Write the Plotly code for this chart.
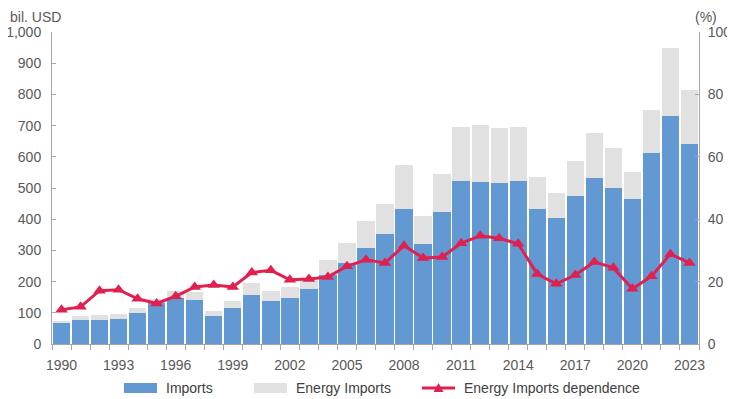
import plotly.graph_objects as go

years = list(range(1990, 2024))
imports = [66, 77, 77, 79, 98, 131, 146, 141, 89, 115, 156, 137, 147, 175, 220, 259, 307, 354, 434, 321,
           423, 522, 518, 515, 524, 434, 404, 475, 533, 501, 465, 613, 731, 642]
energy_imports = [9, 12, 15, 16, 16, 14, 25, 27, 18, 24, 38, 34, 35, 31, 50, 66, 86, 96, 141, 90,
                  123, 174, 184, 178, 173, 101, 81, 110, 144, 127, 86, 138, 218, 173]
dependence = [11.0, 11.9, 17.1, 17.4, 14.5, 13.0, 15.3, 18.3, 18.9, 18.3, 22.9, 23.6, 20.6, 20.8, 21.5, 24.9,
              27.0, 26.0, 31.5, 27.6, 27.9, 32.3, 34.7, 33.9, 32.1, 22.4, 19.3, 22.1, 26.3, 24.4, 17.7, 21.7,
              28.8, 26.0]
tick_years = list(range(1990, 2024, 3))
series_names = ["Imports", "Energy Imports", "Energy Imports dependence"]

FONT = "Liberation Sans, Arial, sans-serif"
TXT = "#595959"
AX = "#a6a6a6"
C_BLUE = "#6399d2"
C_GRAY = "#e1e1e1"
C_RED = "#e0204f"

# the page body has an 8px margin, so the figure is shifted by OFF
OFF = 8
W, H = 727, 391
ML, MR, MT, MB = 44, 36, 24, 55
PW, PH = W - ML - MR, H - MT - MB


def px(x):
    """page pixel x -> paper coord"""
    return (x - OFF - ML) / PW


def py(y):
    """page pixel y -> paper coord"""
    return (H - MB - (y - OFF)) / PH


fig = go.Figure()
fig.add_trace(go.Bar(x=years, y=imports, name=series_names[0], marker=dict(color=C_BLUE, line=dict(width=0))))
fig.add_trace(go.Bar(x=years, y=energy_imports, name=series_names[1],
                     marker=dict(color=C_GRAY, line=dict(width=0))))
fig.add_trace(go.Scatter(x=years, y=dependence, name=series_names[2], yaxis="y2",
                         mode="lines+markers", line=dict(color=C_RED, width=3),
                         marker=dict(symbol="triangle-up", size=11, color=C_RED)))

# manual legend (wide swatches like the reference)
LEG_Y = 388
shapes = [
    dict(type="rect", xref="paper", yref="paper", x0=px(124), x1=px(157), y0=py(393), y1=py(383),
         fillcolor=C_BLUE, line=dict(width=0)),
    dict(type="rect", xref="paper", yref="paper", x0=px(254), x1=px(287), y0=py(393), y1=py(383),
         fillcolor=C_GRAY, line=dict(width=0)),
    dict(type="line", xref="paper", yref="paper", x0=px(422), x1=px(455), y0=py(LEG_Y), y1=py(LEG_Y),
         line=dict(color=C_RED, width=3)),
    dict(type="path", xref="paper", yref="paper", xsizemode="pixel", ysizemode="pixel",
         xanchor=px(438.5), yanchor=py(LEG_Y), path="M-5,-4 L5,-4 L0,5 Z",
         fillcolor=C_RED, line=dict(width=0)),
]
legend_text_x = [164, 294, 462]

annotations = [
    dict(text="bil. USD", xref="paper", yref="paper", x=px(9), y=py(OFF), xanchor="left",
         yanchor="top", borderpad=0, showarrow=False, font=dict(size=14, color=TXT)),
    dict(text="(%)", xref="paper", yref="paper", x=px(694), y=py(OFF), xanchor="left",
         yanchor="top", borderpad=0, showarrow=False, font=dict(size=14, color=TXT)),
]
for name, tx in zip(series_names, legend_text_x):
    annotations.append(dict(text=name, xref="paper", yref="paper", x=px(tx), y=py(LEG_Y),
                            xanchor="left", yanchor="middle", showarrow=False,
                            font=dict(size=14, color="#404040")))

fig.update_layout(
    width=W, height=H,
    margin=dict(l=ML, r=MR, t=MT, b=MB, autoexpand=False),
    barmode="stack", bargap=0.09,
    plot_bgcolor="white", paper_bgcolor="white",
    font=dict(family=FONT, size=14, color=TXT),
    showlegend=False,
    xaxis=dict(range=[1989.5, 2023.5], tickmode="array", tickvals=tick_years, automargin=False,
               ticks="", showline=True, linecolor=AX, linewidth=1, showgrid=False, zeroline=False,
               tickfont=dict(size=14, color=TXT), ticklabelstandoff=8,
               minor=dict(tickmode="linear", tick0=1989.5, dtick=1, ticks="outside", ticklen=5,
                          tickcolor=AX, tickwidth=1, showgrid=False)),
    yaxis=dict(range=[0, 1000], dtick=100, tickformat=",", showgrid=False, zeroline=False, automargin=False,
               showline=True, linecolor=AX, linewidth=1, ticks="inside", ticklen=4, tickcolor=AX,
               tickfont=dict(size=14, color=TXT), ticklabelstandoff=7),
    yaxis2=dict(range=[0, 100], dtick=20, overlaying="y", side="right", showgrid=False, zeroline=False,
                automargin=False,
                showline=True, linecolor=AX, linewidth=1, ticks="inside", ticklen=4, tickcolor=AX,
                tickfont=dict(size=14, color=TXT), ticklabelstandoff=5),
    shapes=shapes,
    annotations=annotations,
)

fig.write_html("out.html")
